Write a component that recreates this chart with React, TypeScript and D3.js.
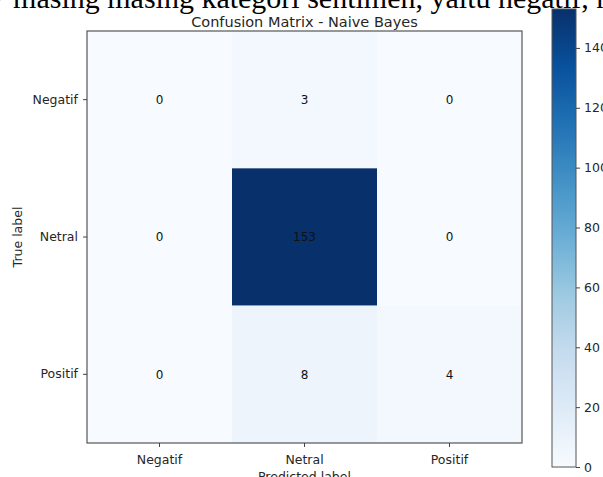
import { useEffect, useRef } from "react";
import * as d3 from "d3";

const classLabels = ["Negatif", "Netral", "Positif"];
const trueRows = ["Negatif", "Netral", "Positif"];
const negatifRow = [0, 3, 0];
const netralRow = [0, 153, 0];
const positifRow = [0, 8, 4];
const colorbarTicks = [0, 20, 40, 60, 80, 100, 120, 140];
// matplotlib "Blues" anchor colours
const bluesStops = [
  "#f7fbff", "#deebf7", "#c6dbef", "#9ecae1", "#6baed6",
  "#4292c6", "#2171b5", "#08519c", "#08306b",
];

const W = 603;
const H = 477;
const FONT = "'DejaVu Sans', sans-serif";

export default function App() {
  const svgRef = useRef<SVGSVGElement | null>(null);

  useEffect(() => {
    if (!svgRef.current) return;
    const svg = d3.select(svgRef.current);
    svg.selectAll("*").remove();

    const matrix = [negatifRow, netralRow, positifRow];
    const cells = matrix.flatMap((row, i) =>
      row.map((v, j) => ({ row: trueRows[i], col: classLabels[j], v }))
    );
    const vmax = d3.max(cells, (d) => d.v) as number;

    const left = 87, right = 522, top = 31, bottom = 443;
    const x = d3.scaleBand().domain(classLabels).range([left, right]);
    const y = d3.scaleBand().domain(trueRows).range([top, bottom]);

    const color = d3
      .scaleLinear<string>()
      .domain(bluesStops.map((_, i) => (i / (bluesStops.length - 1)) * vmax))
      .range(bluesStops)
      .interpolate(d3.interpolateRgb)
      .clamp(true);

    // text above the figure (cut off in the screenshot)
    svg
      .append("text")
      .attr("x", -10)
      .attr("y", 8)
      .style("font-family", "'Liberation Serif', serif")
      .style("font-size", "30px")
      .style("fill", "#000")
      .text("P masing masing kategori sentimen, yaitu negatif, netral, dan positif");

    // title
    svg
      .append("text")
      .attr("x", (left + right) / 2)
      .attr("y", 27)
      .attr("text-anchor", "middle")
      .style("font-family", FONT)
      .style("font-size", "14.5px")
      .style("fill", "#262626")
      .text("Confusion Matrix - Naive Bayes");

    // heatmap cells
    svg
      .append("g")
      .selectAll("rect")
      .data(cells)
      .join("rect")
      .attr("x", (d) => x(d.col)!)
      .attr("y", (d) => y(d.row)!)
      .attr("width", x.bandwidth())
      .attr("height", y.bandwidth())
      .attr("fill", (d) => color(d.v));

    svg
      .append("g")
      .selectAll("text")
      .data(cells)
      .join("text")
      .attr("x", (d) => x(d.col)! + x.bandwidth() / 2)
      .attr("y", (d) => y(d.row)! + y.bandwidth() / 2)
      .attr("dy", "0.35em")
      .attr("text-anchor", "middle")
      .style("font-family", FONT)
      .style("font-size", "12px")
      .style("fill", "#111")
      .text((d) => d.v);

    // frame
    svg
      .append("rect")
      .attr("x", left)
      .attr("y", top)
      .attr("width", right - left)
      .attr("height", bottom - top)
      .attr("fill", "none")
      .attr("stroke", "#555")
      .attr("stroke-width", 1.2);

    const styleAxis = (g: d3.Selection<SVGGElement, unknown, null, undefined>) => {
      g.select(".domain").remove();
      g.selectAll("line").attr("stroke", "#444");
      g.selectAll("text")
        .style("font-family", FONT)
        .style("font-size", "12.5px")
        .style("fill", "#262626");
    };

    svg
      .append("g")
      .attr("transform", `translate(0,${bottom})`)
      .call(d3.axisBottom(x).tickSize(4).tickPadding(8))
      .call(styleAxis);

    svg
      .append("g")
      .attr("transform", `translate(${left},0)`)
      .call(d3.axisLeft(y).tickSize(4).tickPadding(5))
      .call(styleAxis);

    svg
      .append("text")
      .attr("x", (left + right) / 2)
      .attr("y", 481)
      .attr("text-anchor", "middle")
      .style("font-family", FONT)
      .style("font-size", "12.5px")
      .style("fill", "#262626")
      .text("Predicted label");

    svg
      .append("text")
      .attr("transform", `translate(22,${(top + bottom) / 2}) rotate(-90)`)
      .attr("text-anchor", "middle")
      .style("font-family", FONT)
      .style("font-size", "12.5px")
      .style("fill", "#262626")
      .text("True label");

    // colorbar
    const cbLeft = 552, cbWidth = 24;
    const cb = d3.scaleLinear().domain([0, vmax]).range([467, 9]);
    const grad = svg
      .append("defs")
      .append("linearGradient")
      .attr("id", "cbGrad")
      .attr("x1", 0).attr("y1", 1).attr("x2", 0).attr("y2", 0);
    grad
      .selectAll("stop")
      .data(bluesStops)
      .join("stop")
      .attr("offset", (_, i) => i / (bluesStops.length - 1))
      .attr("stop-color", (d) => d);

    svg
      .append("rect")
      .attr("x", cbLeft)
      .attr("y", cb(vmax))
      .attr("width", cbWidth)
      .attr("height", cb(0) - cb(vmax))
      .attr("fill", "url(#cbGrad)")
      .attr("stroke", "#555")
      .attr("stroke-width", 1);

    svg
      .append("g")
      .attr("transform", `translate(${cbLeft + cbWidth},0)`)
      .call(d3.axisRight(cb).tickValues(colorbarTicks).tickSize(4).tickPadding(4))
      .call(styleAxis);
  }, []);

  return (
    <svg
      ref={svgRef}
      width={W}
      height={H}
      style={{ position: "absolute", left: 0, top: 0, background: "#fff" }}
    />
  );
}
